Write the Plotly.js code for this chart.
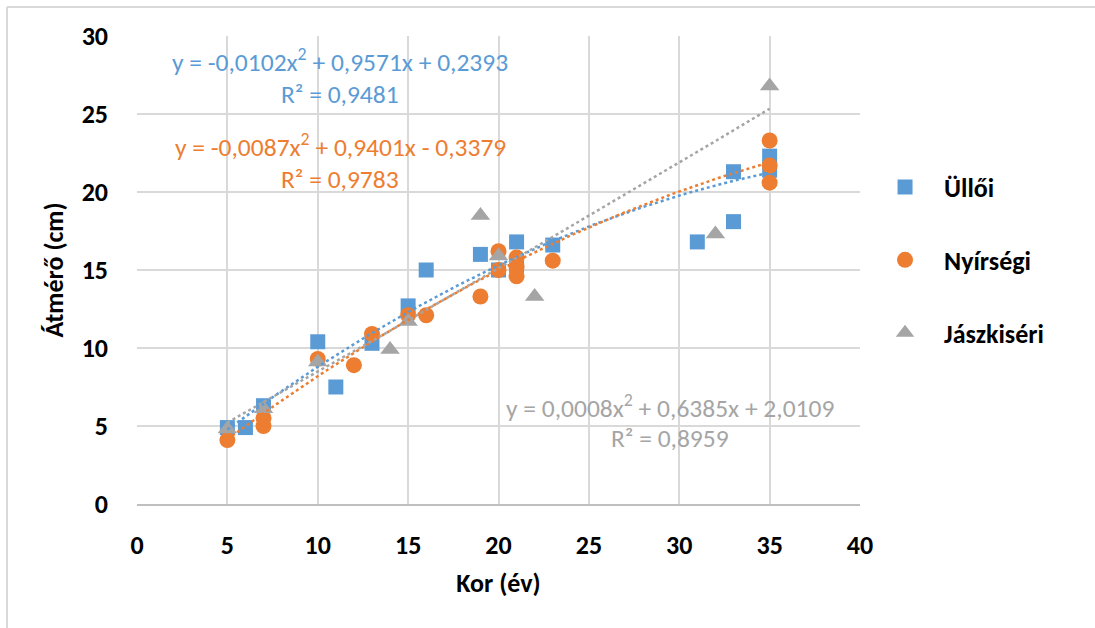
<!DOCTYPE html>
<html>
<head>
<meta charset="utf-8">
<script src="https://cdn.plot.ly/plotly-3.0.1.min.js"></script>
<style>
html,body{margin:0;padding:0;background:#fff;}
#chart{width:1095px;height:628px;}
</style>
</head>
<body>
<div id="chart"></div>
<script>
// ---- Data ----
const seriesNames = ["Üllői", "Nyírségi", "Jászkiséri"];

const ulloiX = [5, 6, 7, 10, 11, 13, 15, 16, 19, 20, 21, 21, 23, 31, 33, 33, 35, 35];
const ulloiY = [4.9, 4.9, 6.3, 10.4, 7.5, 10.3, 12.7, 15.0, 16.0, 15.0, 16.8, 15.3, 16.6, 16.8, 21.3, 18.1, 22.3, 21.4];

const nyirX = [5, 7, 7, 10, 12, 13, 15, 16, 19, 20, 20, 21, 21, 21, 23, 35, 35, 35];
const nyirY = [4.1, 5.0, 5.5, 9.3, 8.9, 10.9, 12.1, 12.1, 13.3, 16.2, 15.0, 15.8, 15.2, 14.6, 15.6, 23.3, 21.7, 20.6];

const jaszX = [5, 7, 10, 14, 15, 19, 20, 22, 32, 35];
const jaszY = [4.8, 6.1, 9.1, 9.9, 11.7, 18.5, 15.9, 13.3, 17.3, 26.8];

// Trendline coefficients as printed on the chart: [a, b, c] for y = a x^2 + b x + c
const ulloiCoef = [-0.0102, 0.9571, 0.2393];
const nyirCoef = [-0.0087, 0.9401, -0.3379];
const jaszCoef = [0.0008, 0.6385, 2.0109];

const eqTexts = [
  "y = -0,0102x<sup>2</sup> + 0,9571x + 0,2393",
  "y = -0,0087x<sup>2</sup> + 0,9401x - 0,3379",
  "y = 0,0008x<sup>2</sup> + 0,6385x + 2,0109"
];
const r2Texts = ["R² = 0,9481", "R² = 0,9783", "R² = 0,8959"];

const xTickVals = [0, 5, 10, 15, 20, 25, 30, 35, 40];
const yTickVals = [0, 5, 10, 15, 20, 25, 30];

// ---- Styling ----
const colors = ["#5B9BD5", "#ED7D31", "#A5A5A5"];
const FONT = "Carlito, Lato, 'Liberation Sans', sans-serif";

function trend(xs, coef) {
  const lo = Math.min(...xs), hi = Math.max(...xs);
  const tx = [], ty = [];
  const n = 120;
  for (let i = 0; i <= n; i++) {
    const x = lo + (hi - lo) * i / n;
    tx.push(x);
    ty.push(coef[0] * x * x + coef[1] * x + coef[2]);
  }
  return {x: tx, y: ty};
}

const symbols = ["square", "circle", "triangle-up"];
const sizes = [15, 16, 17];
const xs = [ulloiX, nyirX, jaszX];
const ys = [ulloiY, nyirY, jaszY];
const coefs = [ulloiCoef, nyirCoef, jaszCoef];

const traces = [];
for (let i = 0; i < 3; i++) {
  traces.push({
    type: "scatter", mode: "markers", name: seriesNames[i],
    x: xs[i], y: ys[i],
    legendgroup: "g" + i,
    marker: {symbol: symbols[i], size: sizes[i], color: colors[i], line: {width: 0}},
    hoverinfo: "x+y"
  });
}
for (let i = 0; i < 3; i++) {
  const t = trend(xs[i], coefs[i]);
  traces.push({
    type: "scatter", mode: "lines", x: t.x, y: t.y, showlegend: false,
    line: {color: colors[i], width: 2.5, dash: "dot"}, hoverinfo: "skip"
  });
}

// annotation positions (paper coords)
const eqPos = [[0.281, 0.947], [0.281, 0.766], [0.737, 0.209]];
const r2Pos = [[0.281, 0.875], [0.281, 0.694], [0.737, 0.139]];
const annotations = [];
for (let i = 0; i < 3; i++) {
  annotations.push({xref: "paper", yref: "paper", x: eqPos[i][0], y: eqPos[i][1],
    text: eqTexts[i], showarrow: false, xanchor: "center", yanchor: "middle", borderpad: 0,
    font: {family: FONT, size: 25.5, color: colors[i]}});
  annotations.push({xref: "paper", yref: "paper", x: r2Pos[i][0], y: r2Pos[i][1],
    text: r2Texts[i], showarrow: false, xanchor: "center", yanchor: "middle", borderpad: 0,
    font: {family: FONT, size: 25.5, color: colors[i]}});
}

const layout = {
  width: 1095, height: 628,
  paper_bgcolor: "#ffffff", plot_bgcolor: "#ffffff",
  margin: {l: 137, r: 235, t: 36, b: 124, pad: 0},
  font: {family: FONT, color: "#000"},
  showlegend: true,
  legend: {
    x: 0.7909, xref: "container", xanchor: "left",
    y: 0.521, yanchor: "middle",
    font: {family: FONT, size: 26, color: "#000", weight: "bold"},
    itemwidth: 68,
    traceorder: "grouped", tracegroupgap: 36,
    bgcolor: "rgba(0,0,0,0)"
  },
  xaxis: {
    range: [0, 40], tickvals: xTickVals, ticktext: xTickVals.map(String),
    showgrid: true, gridcolor: "#D9D9D9", gridwidth: 1.5,
    zeroline: false, showline: true, linecolor: "#BFBFBF", linewidth: 1.5,
    ticks: "", ticklabelstandoff: 17,
    tickfont: {family: FONT, size: 26, color: "#000", weight: "bold"},
    title: {text: "Kor (év)", standoff: 14, font: {family: FONT, size: 26, color: "#000", weight: "bold"}},
    automargin: false, fixedrange: true
  },
  yaxis: {
    range: [0, 30], tickvals: yTickVals, ticktext: yTickVals.map(String),
    showgrid: true, gridcolor: "#D9D9D9", gridwidth: 1.5,
    zeroline: false, showline: false,
    ticks: "", ticklabelstandoff: 28,
    tickfont: {family: FONT, size: 26, color: "#000", weight: "bold"},
    title: {text: "Átmérő (cm)", standoff: 10, font: {family: FONT, size: 26, color: "#000", weight: "bold"}},
    automargin: false, fixedrange: true
  },
  annotations: annotations,
  shapes: [
    {type: "line", xref: "paper", yref: "paper", x0: -0.1798, x1: 1.4, y0: 1.062, y1: 1.062,
     line: {color: "#D9D9D9", width: 2}},
    {type: "line", xref: "paper", yref: "paper", x0: -0.1798, x1: -0.1798, y0: 1.062, y1: -0.3,
     line: {color: "#D9D9D9", width: 2}}
  ]
};

Plotly.newPlot("chart", traces, layout, {displayModeBar: false, staticPlot: false});
</script>
</body>
</html>
